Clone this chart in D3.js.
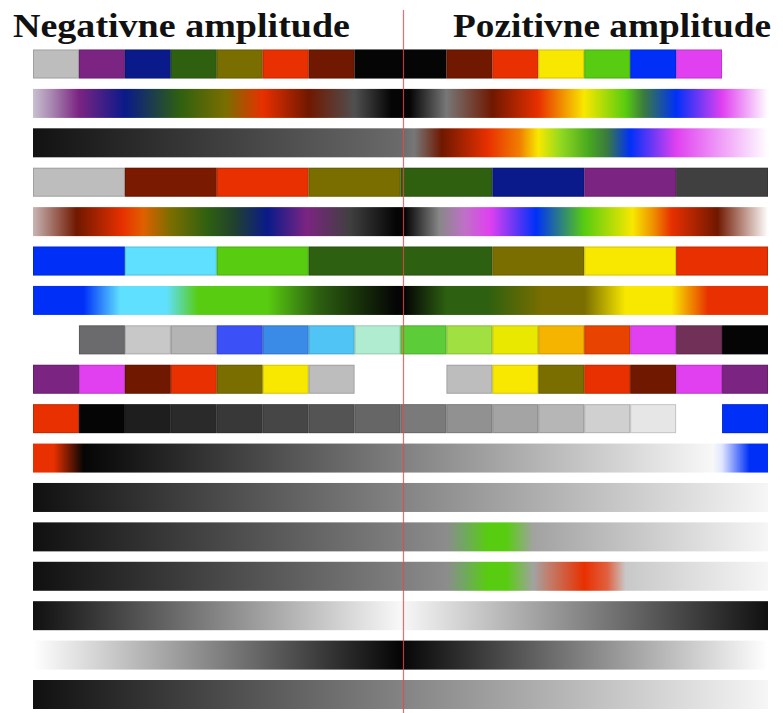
<!DOCTYPE html>
<html>
<head>
<meta charset="utf-8">
<script src="https://cdn.jsdelivr.net/npm/d3@7"></script>
<style>
  body { margin: 0; background: #fff; }
  svg { display: block; }
</style>
</head>
<body>
<script>
// column colours for the block rows (null = empty cell), 16 columns each
var row1Colors = ["#bdbdbd", "#7b2482", "#0a1a8a", "#2f6010", "#7a6e00", "#e83000", "#701800", "#050505",
                  "#050505", "#701800", "#e83000", "#f8e800", "#58cc10", "#0030f8", "#e040f0", null];
var row4Colors = ["#bdbdbd", "#bdbdbd", "#7a1a00", "#7a1a00", "#e83000", "#e83000", "#7a6e00", "#7a6e00",
                  "#2f6010", "#2f6010", "#0a1a8a", "#0a1a8a", "#7b2482", "#7b2482", "#404040", "#404040"];
var row6Colors = ["#0030f8", "#0030f8", "#60e0ff", "#60e0ff", "#58cc10", "#58cc10", "#2d6010", "#2d6010",
                  "#2d6010", "#2d6010", "#7a6e00", "#7a6e00", "#f8e800", "#f8e800", "#e83000", "#e83000"];
var row8Colors = [null, "#6b6b6e", "#c8c8c8", "#b4b4b4", "#3c50f8", "#3a8ae8", "#50c4f4", "#b0ecd0",
                  "#5ccc38", "#a0e040", "#e8e800", "#f4b400", "#e84400", "#e040f0", "#703058", "#050505"];
var row9Colors = ["#7b2482", "#e040f0", "#701800", "#e83000", "#7a6e00", "#f8e800", "#bdbdbd", null,
                  null, "#bdbdbd", "#f8e800", "#7a6e00", "#e83000", "#701800", "#e040f0", "#7b2482"];
var row10Colors = ["#e83000", "#050505", "#1e1e1e", "#2a2a2a", "#383838", "#464646", "#545454", "#666666",
                   "#7a7a7a", "#919191", "#a4a4a4", "#b6b6b6", "#d0d0d0", "#e6e6e6", null, "#0030f8"];

// gradient rows: [position in columns (0..16), colour]
var row2Stops = [[0, "#c8c0d0"], [0.4, "#a888b0"], [1, "#7b2482"], [2, "#0a1a8a"], [3.2, "#2f6010"], [4.2, "#7a6e00"],
                 [5, "#e83000"], [6, "#701800"], [7, "#505050"], [7.8, "#050505"], [8.2, "#050505"],
                 [9, "#777777"], [10, "#701800"], [11, "#e83000"], [12, "#f8e800"], [12.9, "#58cc10"],
                 [13.3, "#3a7a40"], [14, "#0030f8"], [15, "#e040f0"], [16, "#ffffff"]];
var row3Stops = [[0, "#121212"], [8, "#6a6a6a"], [8.3, "#777777"], [8.9, "#701800"], [9.9, "#e83000"],
                 [10.6, "#f08000"], [11, "#f8e800"], [11.5, "#90d820"], [12.1, "#48a820"], [12.5, "#3a7a40"],
                 [13, "#0030f8"], [14, "#e040f0"], [15, "#f0a0f8"], [16, "#ffffff"]];
var row5Stops = [[0, "#c8b4b4"], [0.95, "#701800"], [1.95, "#e83000"], [2.4, "#e06000"], [3, "#7a6e00"],
                 [3.8, "#2f6010"], [4.4, "#204030"], [5.1, "#0a1a8a"], [5.95, "#7b2482"], [6.9, "#404040"],
                 [7.9, "#050505"], [8.1, "#050505"], [8.85, "#888888"], [9.4, "#c070c8"], [9.95, "#e040f0"],
                 [10.95, "#0030f8"], [12, "#58cc10"], [13.05, "#f8e800"], [13.5, "#f09000"], [13.9, "#e83000"],
                 [14.9, "#701800"], [16, "#ffffff"]];
var row7Stops = [[0, "#0030f8"], [1.1, "#0030f8"], [1.9, "#60e0ff"], [2.9, "#60e0ff"], [3.6, "#58cc10"],
                 [5.1, "#58cc10"], [6.2, "#2d6010"], [7.9, "#050505"], [8.1, "#050505"], [9, "#2d6010"],
                 [9.9, "#2d6010"], [11.1, "#7a6e00"], [12, "#7a6e00"], [12.9, "#f8e800"], [13.9, "#f8e800"],
                 [14.7, "#e83000"], [16, "#e83000"]];
var row11Stops = [[0, "#e83000"], [0.45, "#e83000"], [1.1, "#050505"], [14.8, "#f8f8f8"], [15, "#e0e6ff"],
                  [15.6, "#0030f8"], [16, "#0030f8"]];
var row12Stops = [[0, "#101010"], [16, "#f6f6f6"]];
var row13Stops = [[0, "#101010"], [9, "#8c8c8c"], [9.4, "#70a860"], [9.9, "#58cc10"], [10.3, "#58cc10"],
                  [10.9, "#a2a2a2"], [16, "#f6f6f6"]];
var row14Stops = [[0, "#101010"], [9, "#8c8c8c"], [9.4, "#70a860"], [9.9, "#58cc10"], [10.3, "#58cc10"],
                  [10.9, "#a2a2a2"], [11.2, "#c08070"], [12, "#e83000"], [12.5, "#e06040"], [12.9, "#c8c8c8"],
                  [16, "#f6f6f6"]];
var row15Stops = [[0, "#101010"], [8, "#f8f8f8"], [16, "#101010"]];
var row16Stops = [[0, "#ffffff"], [8, "#050505"], [16, "#ffffff"]];
var row17Stops = [[0, "#101010"], [16, "#f6f6f6"]];

var titles = ["Negativne amplitude", "Pozitivne amplitude"];

var rows = [
  {type: "blocks", data: row1Colors},
  {type: "grad", data: row2Stops},
  {type: "grad", data: row3Stops},
  {type: "blocks", data: row4Colors},
  {type: "grad", data: row5Stops},
  {type: "blocks", data: row6Colors},
  {type: "grad", data: row7Stops},
  {type: "blocks", data: row8Colors},
  {type: "blocks", data: row9Colors},
  {type: "blocks", data: row10Colors},
  {type: "grad", data: row11Stops},
  {type: "grad", data: row12Stops},
  {type: "grad", data: row13Stops},
  {type: "grad", data: row14Stops},
  {type: "grad", data: row15Stops},
  {type: "grad", data: row16Stops},
  {type: "grad", data: row17Stops}
];

var width = 783, height = 713;

var x = d3.scaleLinear().domain([0, 16]).range([33, 768]);
var y = d3.scaleBand().domain(d3.range(rows.length)).range([49.5, 709]).paddingInner(0.264).paddingOuter(0);

var svg = d3.select("body").append("svg")
  .attr("width", width)
  .attr("height", height);

var defs = svg.append("defs");

// merge neighbouring cells of the same colour into one block
function runs(colors) {
  var out = [];
  colors.forEach(function(c, j) {
    if (!c) return;
    var last = out[out.length - 1];
    if (last && last.color == c && last.end == j) last.end = j + 1;
    else out.push({start: j, end: j + 1, color: c});
  });
  return out;
}

rows.forEach(function(r, i) {
  var g = svg.append("g").attr("class", "row");
  if (r.type == "blocks") {
    var cells = runs(r.data);
    g.selectAll("rect.cell").data(cells).enter().append("rect")
      .attr("class", "cell")
      .attr("x", function(d) { return x(d.start); })
      .attr("y", y(i))
      .attr("width", function(d) { return x(d.end) - x(d.start); })
      .attr("height", y.bandwidth())
      .attr("fill", function(d) { return d.color; });
    // thin outline round each block
    g.selectAll("rect.edge").data(cells).enter().append("rect")
      .attr("class", "edge")
      .attr("x", function(d) { return x(d.start) + 0.5; })
      .attr("y", y(i) + 0.5)
      .attr("width", function(d) { return x(d.end) - x(d.start) - 1; })
      .attr("height", y.bandwidth() - 1)
      .attr("fill", "none")
      .attr("stroke", "#000")
      .attr("stroke-opacity", 0.15);
  } else {
    var id = "grad" + i;
    var lg = defs.append("linearGradient")
      .attr("id", id)
      .attr("gradientUnits", "userSpaceOnUse")
      .attr("x1", x(0)).attr("x2", x(16))
      .attr("y1", 0).attr("y2", 0);
    lg.selectAll("stop").data(r.data).enter().append("stop")
      .attr("offset", function(d) { return d[0] / 16; })
      .attr("stop-color", function(d) { return d[1]; });
    g.append("rect")
      .attr("x", x(0))
      .attr("y", y(i))
      .attr("width", x(16) - x(0))
      .attr("height", y.bandwidth())
      .attr("fill", "url(#" + id + ")");
  }
});

// centre divider
svg.append("line")
  .attr("x1", 403.5).attr("x2", 403.5)
  .attr("y1", 10).attr("y2", height)
  .attr("stroke", "#e84848")
  .attr("stroke-opacity", 0.8)
  .attr("stroke-width", 1.2);

svg.selectAll("text.title").data(titles).enter().append("text")
  .attr("class", "title")
  .attr("x", function(d, i) { return i == 0 ? 13 : 453; })
  .attr("y", 37)
  .attr("textLength", function(d, i) { return i == 0 ? 337 : 318; })
  .attr("lengthAdjust", "spacingAndGlyphs")
  .attr("font-family", "'Liberation Serif', 'Times New Roman', serif")
  .attr("font-weight", "bold")
  .attr("font-size", 34)
  .attr("fill", "#111")
  .text(function(d) { return d; });
</script>
</body>
</html>
